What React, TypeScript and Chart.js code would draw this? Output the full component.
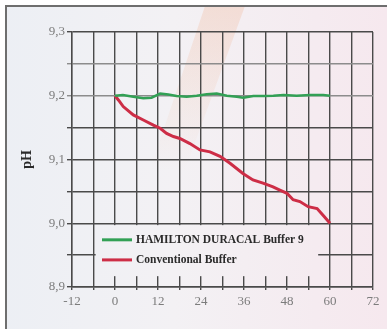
import React, { useEffect, useRef } from "react";
import { Chart, registerables } from "chart.js";
Chart.register(...registerables);

const yTitle = "pH";
const legendLabels = ["HAMILTON DURACAL Buffer 9", "Conventional Buffer"];
const xMin = -12;
const xMax = 72;
const xGridStep = 6;
const xLabelStep = 12;
const yMin = 8.9;
const yMax = 9.3;
const yGridStep = 0.05;

const greenT = [0, 2.2, 5.1, 7.9, 10.2, 12.6, 14.9, 17.2, 20, 22.8, 25.6, 28.4, 31.2, 34, 35.8, 38.6, 41.4, 44.2, 47, 50.7, 54.4, 58.1, 60];
const greenPH = [9.2, 9.201, 9.1985, 9.196, 9.197, 9.2035, 9.202, 9.1996, 9.1985, 9.2, 9.2022, 9.2035, 9.2, 9.1985, 9.197, 9.1996, 9.1996, 9.2, 9.2012, 9.2, 9.2012, 9.201, 9.2];

const redT = [0, 1, 2.3, 5.1, 7.9, 10.7, 12.6, 14.4, 16.3, 18.1, 20.9, 23.7, 26.5, 29.3, 32.1, 35.7, 38.5, 41.3, 44.1, 46, 48, 49.7, 51.6, 53.9, 56.4, 58, 60];
const redPH = [9.2, 9.193, 9.183, 9.17, 9.162, 9.154, 9.149, 9.141, 9.136, 9.133, 9.125, 9.115, 9.112, 9.105, 9.094, 9.078, 9.068, 9.063, 9.057, 9.052, 9.047, 9.037, 9.034, 9.026, 9.023, 9.013, 9.0];

const W = 387;
const H = 329;

function makeBg(ctx: CanvasRenderingContext2D) {
  const g = ctx.createLinearGradient(0, 0, W, 0);
  g.addColorStop(0, "#eceff4");
  g.addColorStop(0.45, "#f3f1f4");
  g.addColorStop(1, "#f6e8ee");
  return g;
}

const bgPlugin = {
  id: "bgPlugin",
  beforeDraw(chart: any) {
    const ctx = chart.ctx as CanvasRenderingContext2D;
    ctx.save();
    ctx.fillStyle = "#ffffff";
    ctx.fillRect(0, 0, W, H);
    ctx.fillStyle = makeBg(ctx);
    ctx.fillRect(6, 6, W - 6, H - 6);
    // faint diagonal stripe
    ctx.beginPath();
    ctx.moveTo(205, 6);
    ctx.lineTo(245, 6);
    ctx.lineTo(185, 170);
    ctx.lineTo(150, 170);
    ctx.closePath();
    const sg = ctx.createLinearGradient(0, 6, 0, 170);
    sg.addColorStop(0, "rgba(240,175,140,0.28)");
    sg.addColorStop(1, "rgba(240,175,140,0)");
    ctx.fillStyle = sg;
    ctx.fill();
    // frame
    ctx.strokeStyle = "#6e6e6e";
    ctx.lineWidth = 2;
    ctx.beginPath();
    ctx.moveTo(6, H);
    ctx.lineTo(6, 6);
    ctx.lineTo(W, 6);
    ctx.stroke();
    ctx.restore();
  },
};

const legendPlugin = {
  id: "legendBox",
  beforeDatasetsDraw(chart: any) {
    const ctx = chart.ctx as CanvasRenderingContext2D;
    const xs = chart.scales.x;
    const ys = chart.scales.y;
    const left = xs.getPixelForValue(-5.4);
    const right = xs.getPixelForValue(56.7);
    const top = ys.getPixelForValue(8.997);
    const bottom = ys.getPixelForValue(8.917);
    ctx.save();
    ctx.fillStyle = makeBg(ctx);
    ctx.fillRect(left, top, right - left, bottom - top);
    const colors = ["rgb(50,160,85)", "rgb(205,45,70)"];
    const rows = [ys.getPixelForValue(8.974), ys.getPixelForValue(8.9425)];
    ctx.font = "bold 11.5px 'Liberation Serif', serif";
    ctx.textBaseline = "middle";
    for (let i = 0; i < legendLabels.length; i++) {
      ctx.strokeStyle = colors[i];
      ctx.lineWidth = 3;
      ctx.beginPath();
      ctx.moveTo(102, rows[i]);
      ctx.lineTo(132, rows[i]);
      ctx.stroke();
      ctx.fillStyle = "#2a2a2a";
      ctx.fillText(legendLabels[i], 136, rows[i]);
    }
    ctx.restore();
  },
};

export default function App() {
  const ref = useRef<HTMLCanvasElement>(null);
  useEffect(() => {
    if (!ref.current) return;
    const chart = new Chart(ref.current, {
      type: "line",
      data: {
        datasets: [
          {
            label: legendLabels[0],
            data: greenT.map((t, i) => ({ x: t, y: greenPH[i] })),
            borderColor: "rgb(50,160,85)",
            borderWidth: 2.5,
            pointRadius: 0,
            tension: 0,
          },
          {
            label: legendLabels[1],
            data: redT.map((t, i) => ({ x: t, y: redPH[i] })),
            borderColor: "rgb(205,45,70)",
            borderWidth: 3,
            pointRadius: 0,
            tension: 0,
          },
        ],
      },
      options: {
        animation: false,
        responsive: false,
        layout: { padding: { top: 32, right: 14, left: 0, bottom: 0 } },
        plugins: { legend: { display: false }, tooltip: { enabled: false } },
        scales: {
          x: {
            type: "linear",
            min: xMin,
            max: xMax,
            afterFit: (s: any) => {
              s.height = 42;
            },
            ticks: {
              stepSize: xGridStep,
              autoSkip: false,
              maxRotation: 0,
              padding: 4,
              color: "#7c7c7c",
              font: { family: "'Liberation Serif', serif", size: 13 },
              callback: (v: any) => (Math.round(v) % xLabelStep === 0 ? String(v) : ""),
            },
            grid: {
              color: "#4a4a4a",
              lineWidth: 1.4,
              tickLength: 3,
            },
            border: { color: "#4a4a4a", width: 1.4 },
          },
          y: {
            type: "linear",
            min: yMin,
            max: yMax,
            afterFit: (s: any) => {
              s.width = 72;
            },
            title: {
              display: true,
              text: yTitle,
              color: "#2a2a2a",
              font: { family: "'Liberation Serif', serif", size: 14, weight: "bold" },
              padding: { top: 19, bottom: 0 },
            },
            ticks: {
              stepSize: yGridStep,
              autoSkip: false,
              padding: 2,
              color: "#7c7c7c",
              font: { family: "'Liberation Serif', serif", size: 13 },
              callback: (v: any) => {
                const k = Math.round(v * 100);
                return k % 10 === 0 ? (k / 100).toFixed(1).replace(".", ",") : "";
              },
            },
            grid: {
              color: (c: any) => {
                const k = Math.round((c.tick?.value ?? 0) * 100);
                return k === 920 || k === 925 ? "#8c8c8c" : "#4a4a4a";
              },
              lineWidth: 1.4,
              tickLength: 5,
            },
            border: { color: "#4a4a4a", width: 1.4 },
          },
        },
      },
      plugins: [bgPlugin, legendPlugin],
    });
    return () => chart.destroy();
  }, []);
  return (
    <div style={{ position: "fixed", left: 0, top: 0, width: W, height: H }}>
      <canvas ref={ref} width={W} height={H} style={{ width: W, height: H, display: "block" }} />
    </div>
  );
}
